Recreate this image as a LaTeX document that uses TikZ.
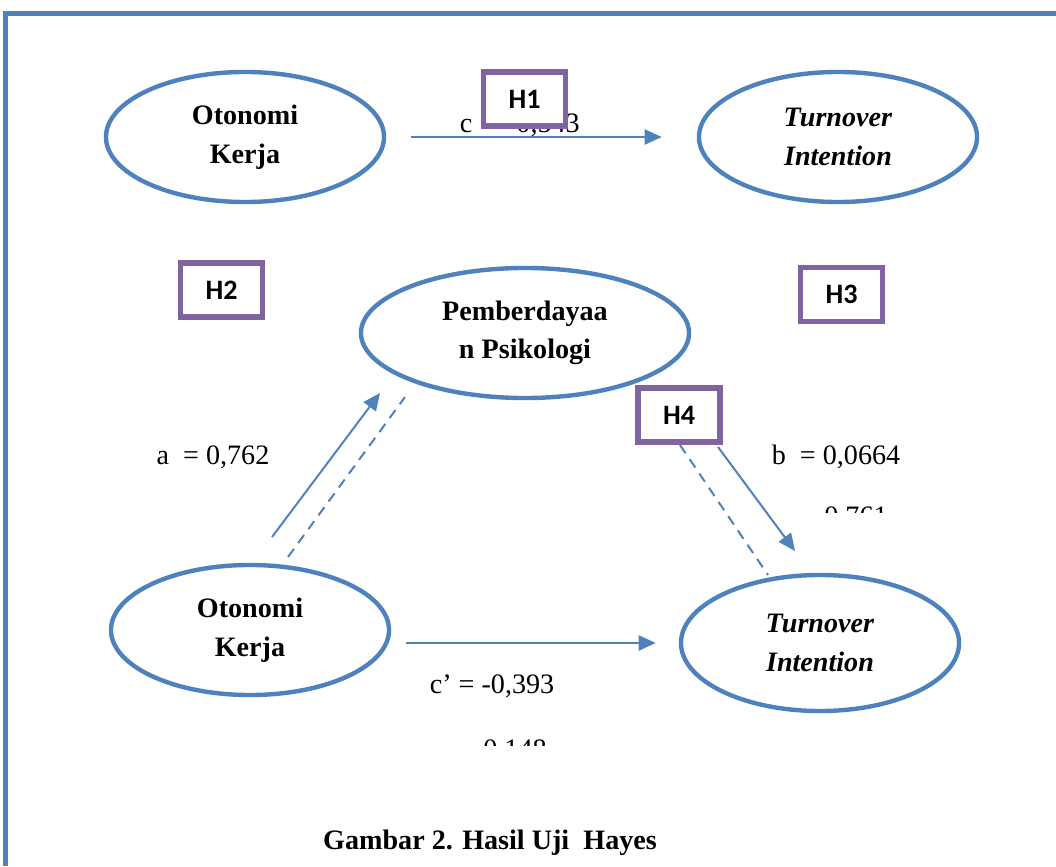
\documentclass[tikz,border=0pt]{standalone}
\usepackage{fontspec}
\setmainfont{Liberation Serif}
\newfontfamily\hfont{Carlito}
\usetikzlibrary{shapes.geometric,arrows.meta}
\definecolor{lineblue}{HTML}{4F81BD}
\definecolor{hpurple}{HTML}{8064A2}
\begin{document}
\begin{tikzpicture}[x=0.025cm,y=-0.025cm,
font=\fontsize{20}{27.5}\selectfont,
var/.style={
% The shape:
ellipse,
draw=lineblue,
line width=0.11cm,
minimum width=6.95cm,
minimum height=3.25cm,
align=center,
font=\fontsize{20}{27.5}\selectfont\bfseries
},
hyp/.style={
rectangle,draw=hpurple,fill=white,line width=0.14cm,
minimum width=2.05cm,minimum height=1.35cm,
font=\fontsize{20}{22}\selectfont\hfont\bfseries
},
link/.style={draw=lineblue,line width=0.05cm,-{Triangle[length=0.43cm,width=0.38cm]}},
dlink/.style={draw=lineblue,line width=0.05cm,dash pattern=on 0.25cm off 0.18cm}
]
\useasboundingbox (0,0) rectangle (1056,866);
% frame
\draw[lineblue,line width=0.13cm] (5.5,866) -- (5.5,13.5) -- (1056,13.5);
% variables
\node (otonomi) [var] at (245,137) {Otonomi\\Kerja};
\node (turnover) [var] at (838,137) {\textit{Turnover}\\\textit{Intention}};
\node (pemberdayaan) [var,minimum width=8.2cm] at (525,333) {Pemberdayaa\\n Psikologi};
\node (otonomib) [var] at (250,630) {Otonomi\\Kerja};
\node (turnoverb) [var,minimum height=3.4cm] at (820,643) {\textit{Turnover}\\\textit{Intention}};
% path labels
\node (c) [anchor=base west] at (455,133) {c\ \ \ = 0,543};
\node (a) [anchor=base] at (213,464) {a\ \ = 0,762};
\node (b) [anchor=base] at (836,464) {b\ \ = 0,0664};
\node (cp) [anchor=base] at (492,693) {c’ = -0,393};
\begin{scope}
\clip (790,480) rectangle (930,512);
\node (pb) [anchor=base] at (856,525) {0,761};
\end{scope}
\begin{scope}
\clip (450,720) rectangle (590,745);
\node (pcp) [anchor=base] at (515,758) {0,148};
\end{scope}
% hypotheses
\node (h1) [hyp] at (524.5,99) {H1};
\node (h2) [hyp] at (221.5,290) {H2};
\node (h3) [hyp] at (841.5,294.5) {H3};
\node (h4) [hyp] at (679,415) {H4};
% connectors
\coordinate (aS) at (272,537);
\coordinate (aE) at (380,393);
\coordinate (dS) at (288,557);
\coordinate (dE) at (405,397);
\coordinate (bS) at (718,447);
\coordinate (bE) at (795,551);
\coordinate (eS) at (680,445);
\coordinate (eE) at (768,575);
\path (otonomi.east) edge[link,shorten <=0.625cm,shorten >=0.875cm] (turnover.west)
(otonomib.east |- turnoverb.west) edge[link,shorten <=0.375cm,shorten >=0.575cm] (turnoverb.west)
(aS) edge[link] (aE) (dS) edge[dlink] (dE)
(bS) edge[link] (bE) (eS) edge[dlink] (eE);
% caption
\node (caption) [anchor=base,font=\fontsize{20}{24}\selectfont\bfseries] at (490,849) {Gambar 2. Hasil Uji\ \ Hayes};
\end{tikzpicture}
\end{document}
